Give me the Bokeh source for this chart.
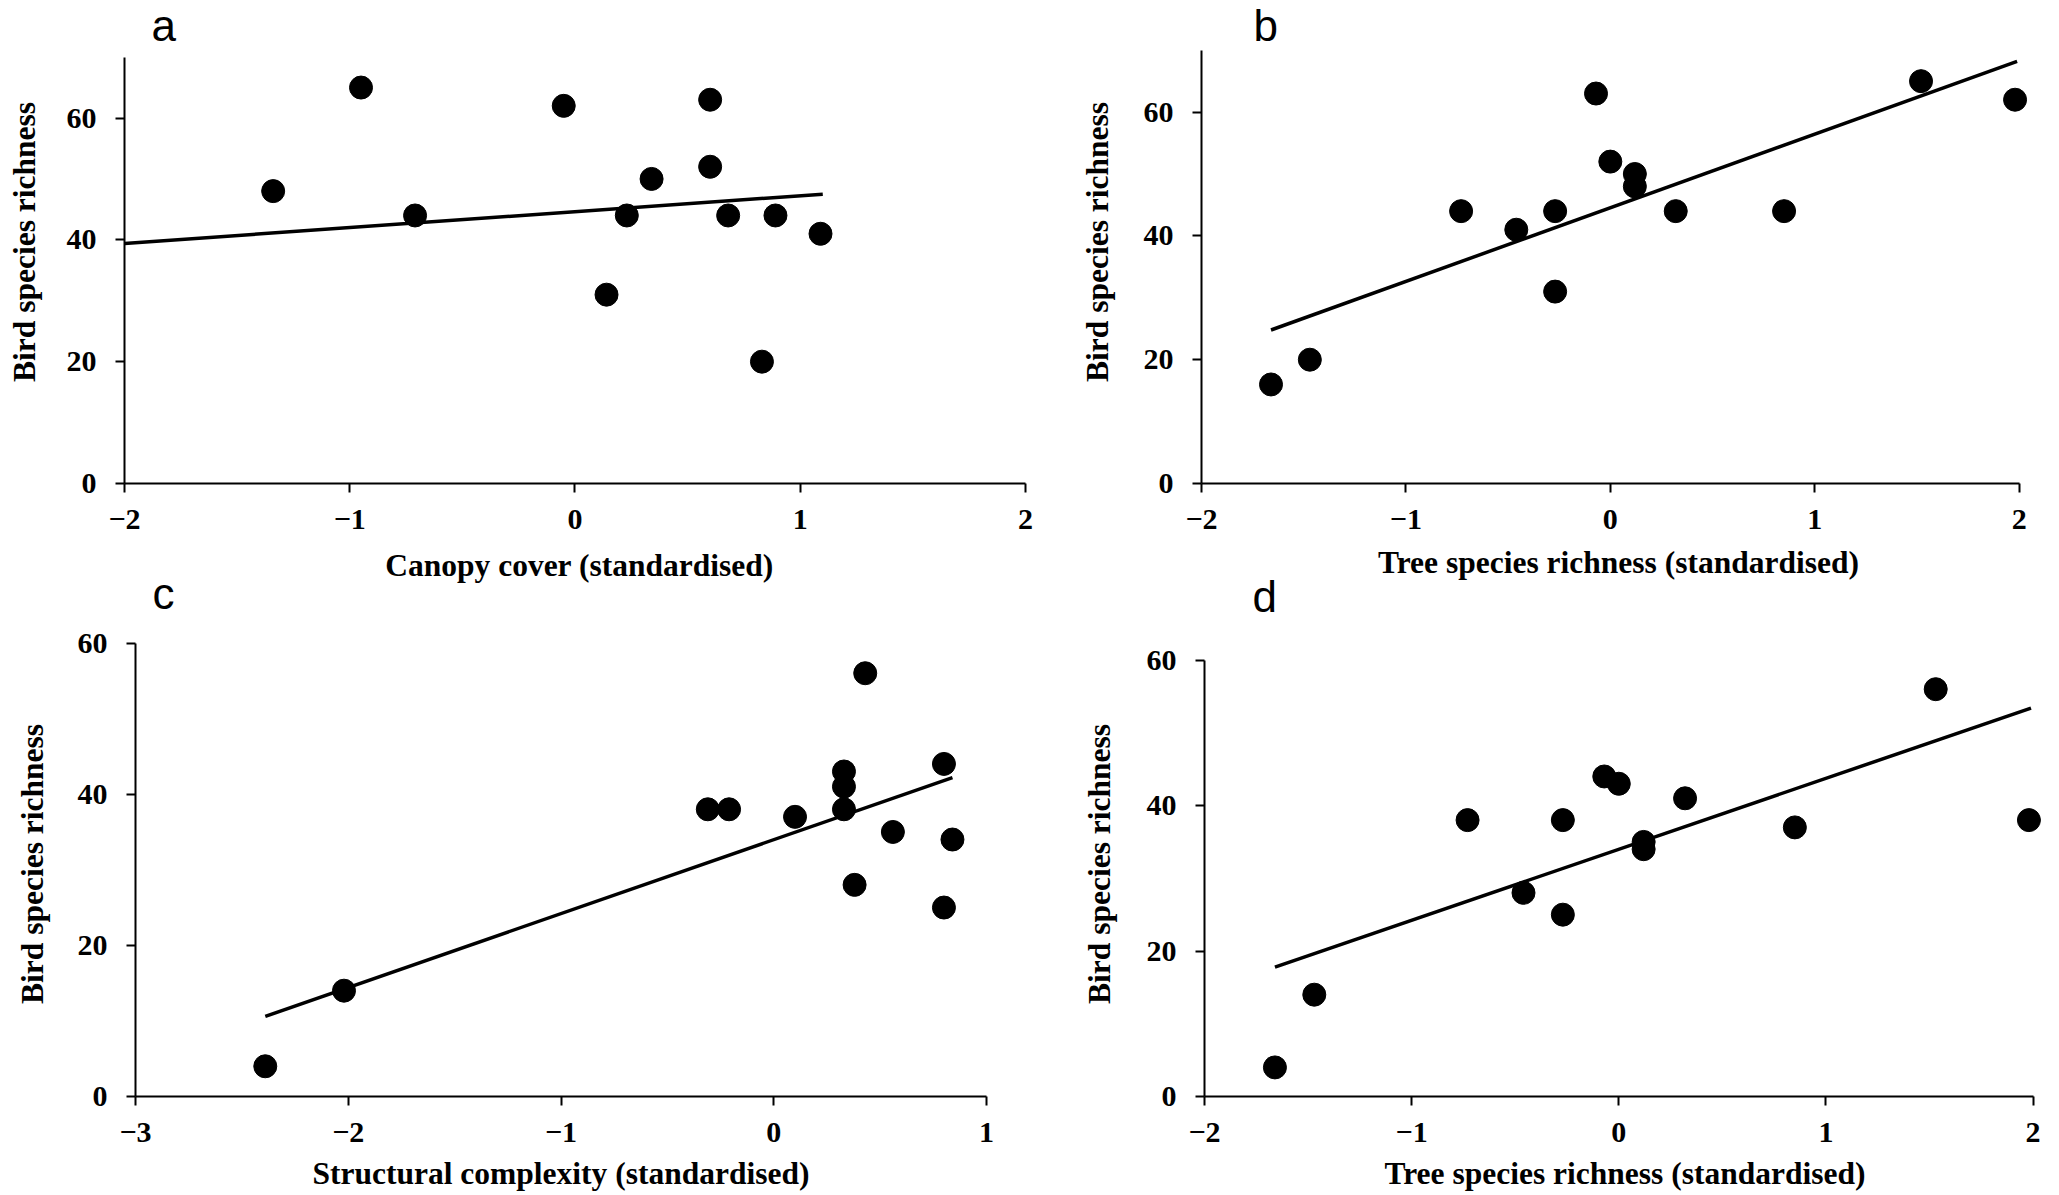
from bokeh.plotting import figure
from bokeh.layouts import column, row
from bokeh.models import Range1d, FixedTicker, Label
from bokeh.embed import file_html
from bokeh.resources import INLINE

# ---------------- data ----------------
# a: canopy cover
a_x = [-1.34, -0.95, -0.71, -0.05, 0.14, 0.23, 0.34, 0.60, 0.60, 0.68, 0.83, 0.89, 1.09]
a_y = [48, 65, 44, 62, 31, 44, 50, 63, 52, 44, 20, 44, 41]
a_fit_x = [-2.0, 1.10]
a_fit_y = [39.4, 47.5]

# b: tree species richness
b_x = [-1.66, -1.47, -0.73, -0.46, -0.27, -0.27, -0.07, 0.00, 0.12, 0.12, 0.32, 0.85, 1.52, 1.98]
b_y = [16, 20, 44, 41, 44, 31, 63, 52, 50, 48, 44, 44, 65, 62]
b_fit_x = [-1.66, 1.99]
b_fit_y = [24.8, 68.2]

# c: structural complexity
c_x = [-2.39, -2.02, -0.31, -0.21, 0.10, 0.33, 0.33, 0.33, 0.38, 0.43, 0.56, 0.80, 0.80, 0.84]
c_y = [4, 14, 38, 38, 37, 43, 41, 38, 28, 56, 35, 44, 25, 34]
c_fit_x = [-2.39, 0.84]
c_fit_y = [10.6, 42.2]

# d: tree species richness
d_x = [-1.66, -1.47, -0.73, -0.46, -0.27, -0.27, -0.07, 0.00, 0.12, 0.12, 0.32, 0.85, 1.53, 1.98]
d_y = [4, 14, 38, 28, 38, 25, 44, 43, 35, 34, 41, 37, 56, 38]
d_fit_x = [-1.66, 1.99]
d_fit_y = [17.8, 53.4]

ticks_x_ab = [-2, -1, 0, 1, 2]
ticks_x_c = [-3, -2, -1, 0, 1]
ticks_y = [0, 20, 40, 60]

y_label = "Bird species richness"

SERIF = "Liberation Serif"
SANS = "Liberation Sans"


def panel(tag, xs, ys, fx, fy, xr, xbounds, xticks, ytop, axis_px, xlabel,
          fw, fh, mbl, mbr, mbt, mbb, tag_dx, tag_dy, xa_std, ya_std, tag_as_title):
    # y range may extend above the axis top (axis line stops at ytop)
    y_end = ytop * fh / axis_px
    p = figure(frame_width=fw, frame_height=fh,
               min_border_left=mbl, min_border_right=mbr,
               min_border_top=mbt, min_border_bottom=mbb,
               x_range=Range1d(*xr), y_range=Range1d(0, y_end),
               title=(tag if tag_as_title else None),
               output_backend="svg", toolbar_location=None)
    p.outline_line_color = None
    p.xgrid.grid_line_color = None
    p.ygrid.grid_line_color = None
    p.background_fill_color = None
    p.border_fill_color = None

    p.line(fx, fy, line_width=3.5, color="black")
    p.scatter(xs, ys, size=23, color="black")

    p.xaxis.ticker = FixedTicker(ticks=xticks)
    p.yaxis.ticker = FixedTicker(ticks=ticks_y)
    p.xaxis.bounds = xbounds
    p.yaxis.bounds = (0, ytop)
    p.xaxis.axis_label = xlabel
    p.yaxis.axis_label = y_label

    for ax in p.axis:
        ax.axis_line_width = 2
        ax.axis_line_color = "black"
        ax.major_tick_line_width = 2
        ax.major_tick_line_color = "black"
        ax.major_tick_out = 9
        ax.major_tick_in = 0
        ax.minor_tick_line_color = None
        ax.major_label_text_font = SERIF
        ax.major_label_text_font_style = "bold"
        ax.major_label_text_font_size = "30px"
        ax.major_label_text_color = "black"
        ax.axis_label_text_font = SERIF
        ax.axis_label_text_font_style = "bold"
        ax.axis_label_text_font_size = "31.5px"
        ax.axis_label_text_color = "black"
    p.xaxis.major_label_standoff = 17
    p.xaxis.axis_label_standoff = xa_std
    p.yaxis.major_label_standoff = 19
    p.yaxis.axis_label_standoff = ya_std

    if tag_as_title:
        p.title.align = "left"
        p.title.offset = tag_dx
        p.title.standoff = tag_dy
        p.title.text_font = SANS
        p.title.text_font_size = "44px"
        p.title.text_font_style = "normal"
        p.title.text_color = "black"
    else:
        p.add_layout(Label(x=xr[0], y=ytop, x_offset=tag_dx, y_offset=tag_dy,
                           text=tag, text_font=SANS, text_font_size="44px",
                           text_color="black", text_baseline="middle",
                           text_align="left"))
    return p


# top row: frames 0..483 ; bottom row (pulled up to overlap) starts at 541,
# its frames span 631..1096
pa = panel("a", a_x, a_y, a_fit_x, a_fit_y, (-2, 2.04), (-2, 2), ticks_x_ab, 70, 426.4,
           "Canopy cover (standardised)",
           fw=910, fh=483, mbl=124, mbr=6, mbt=0, mbb=104,
           tag_dx=27, tag_dy=31.8, xa_std=16, ya_std=22, tag_as_title=False)
pb = panel("b", b_x, b_y, b_fit_x, b_fit_y, (-2, 2.08), (-2, 2), ticks_x_ab, 70, 433.3,
           "Tree species richness (standardised)",
           fw=834, fh=483, mbl=161, mbr=24, mbt=0, mbb=104,
           tag_dx=52, tag_dy=24.9, xa_std=13, ya_std=26, tag_as_title=False)
pc = panel("c", c_x, c_y, c_fit_x, c_fit_y, (-3, 1), (-3, 1), ticks_x_c, 60, 453.5,
           "Structural complexity (standardised)",
           fw=851, fh=465, mbl=135, mbr=54, mbt=90, mbb=99,
           tag_dx=17, tag_dy=27, xa_std=11, ya_std=25, tag_as_title=True)
pd_ = panel("d", d_x, d_y, d_fit_x, d_fit_y, (-2, 2.06), (-2, 2), ticks_x_ab, 60, 436.4,
            "Tree species richness (standardised)",
            fw=841, fh=465, mbl=164, mbr=14, mbt=90, mbb=99,
            tag_dx=48, tag_dy=22, xa_std=11, ya_std=27, tag_as_title=True)

top = row(pa, pb)
bottom = row(pc, pd_, margin=(-46, 0, 0, 0))
layout = column(top, bottom)

open("out.html", "w").write(file_html(layout, INLINE))
